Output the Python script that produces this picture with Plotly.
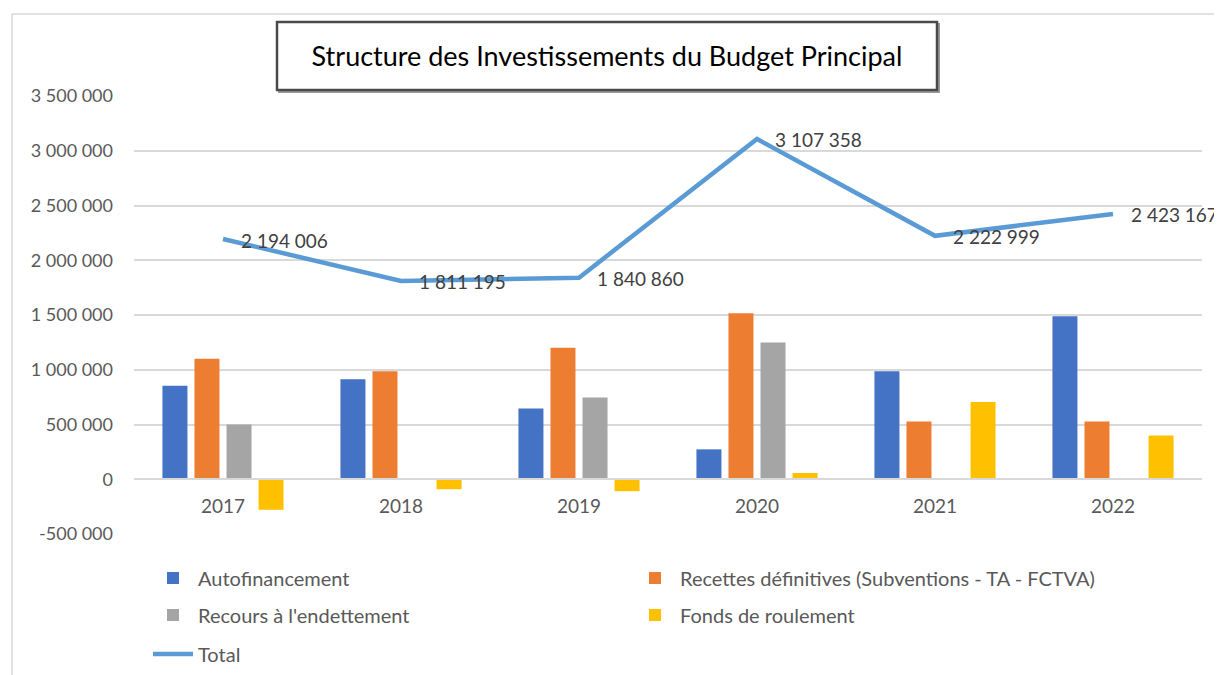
import plotly.graph_objects as go

# ---------------- data ----------------
years = ["2017", "2018", "2019", "2020", "2021", "2022"]
autofinancement = [855000, 913000, 646000, 273000, 986000, 1489000]
recettes = [1101000, 986000, 1201000, 1516000, 528000, 528000]
endettement = [500000, None, 746000, 1250000, None, None]
fonds_roulement = [-279000, -91000, -109000, 57000, 706000, 400000]
total = [2194006, 1811195, 1840860, 3107358, 2222999, 2423167]
total_labels = ["2 194 006", "1 811 195", "1 840 860", "3 107 358", "2 222 999", "2 423 167"]

y_tickvals = [-500000, 0, 500000, 1000000, 1500000, 2000000, 2500000, 3000000, 3500000]
y_ticktext = ["-500 000", "0", "500 000", "1 000 000", "1 500 000", "2 000 000",
              "2 500 000", "3 000 000", "3 500 000"]

series_names = ["Autofinancement", "Recettes définitives (Subventions - TA - FCTVA)",
                "Recours à l'endettement", "Fonds de roulement"]
colors = ["#4472C4", "#ED7D31", "#A5A5A5", "#FFC000"]
line_color = "#5B9BD5"

# ---------------- geometry ----------------
# the HTML body has an 8px default margin: figure is drawn at page offset (8, 8)
OFF = 8
W, H = 1222 - OFF, 675 - OFF
PLOT_L, PLOT_R, PLOT_T, PLOT_B = 134, 1202, 96, 534      # in page pixels
ML, MR = PLOT_L - OFF, (W + OFF) - PLOT_R
MT, MB = PLOT_T - OFF, (H + OFF) - PLOT_B
PW, PH = W - ML - MR, H - MT - MB
YMIN, YMAX = -500000, 3500000

def px_x(px):
    return (px - PLOT_L) / PW

def px_y(py):
    return (PLOT_B - py) / PH

FONT = "Lato, 'Open Sans', sans-serif"

fig = go.Figure()
for name, vals, col, lg in zip(series_names,
                               [autofinancement, recettes, endettement, fonds_roulement],
                               colors, ["legend", "legend", "legend2", "legend2"]):
    fig.add_trace(go.Bar(x=years, y=vals, name=name, marker_color=col,
                         marker_line_width=0, legend=lg, hoverinfo="skip"))

fig.add_trace(go.Scatter(x=years, y=total, name="Total", mode="lines",
                         line=dict(color=line_color, width=4.5),
                         legend="legend3", cliponaxis=False))

# data labels of the total line (category index positions on the x axis)
annotations = [
    dict(x=i, y=v, xref="x", yref="y", text=lbl, showarrow=False,
         xanchor="left", yanchor="middle", xshift=16, yshift=-1,
         font=dict(size=19, color="#404040", family=FONT))
    for i, (v, lbl) in enumerate(zip(total, total_labels))
]

zero_pos = (0 - YMIN) / (YMAX - YMIN)

legend_common = dict(orientation="h", xanchor="left", yanchor="middle",
                     font=dict(size=20, color="#595959", family=FONT),
                     entrywidth=427, itemwidth=40, bgcolor="rgba(0,0,0,0)",
                     traceorder="normal")

fig.update_layout(
    width=W, height=H,
    margin=dict(l=ML, r=MR, t=MT, b=MB, autoexpand=False),
    paper_bgcolor="white", plot_bgcolor="white",
    font=dict(family=FONT, color="#595959"),
    barmode="group", bargap=0.28, bargroupgap=0.22,
    showlegend=True,
    legend=dict(x=px_x(148), y=px_y(578), **legend_common),
    legend2=dict(x=px_x(148), y=px_y(615), **legend_common),
    legend3=dict(x=px_x(148), y=px_y(654), **legend_common),
    xaxis=dict(type="category", range=[-0.5, len(years) - 0.5],
               anchor="free", position=zero_pos, showline=True,
               linecolor="#D9D9D9", linewidth=1.5, ticks="", showgrid=False,
               tickfont=dict(size=19, color="#595959", family=FONT),
               ticklabelstandoff=10, zeroline=False),
    yaxis=dict(range=[YMIN, YMAX], tickvals=y_tickvals, ticktext=y_ticktext,
               showgrid=True, gridcolor="#D9D9D9", gridwidth=1.5, zeroline=False,
               ticks="", tickfont=dict(size=18, color="#595959", family=FONT),
               ticklabelstandoff=20, showline=False),
    title=dict(text="Structure des Investissements du Budget Principal",
               xref="paper", x=(px_x(277) + px_x(937)) / 2, xanchor="center",
               yref="container", y=1 - (57 - OFF) / H, yanchor="middle",
               font=dict(size=27, color="#000000", family=FONT)),
    annotations=annotations,
    shapes=[
        # outer chart frame
        dict(type="rect", xref="paper", yref="paper",
             x0=px_x(12), x1=px_x(1240), y0=px_y(690), y1=px_y(14),
             line=dict(color="#D9D9D9", width=1.5), fillcolor="rgba(0,0,0,0)",
             layer="below"),
        # title box shadow
        dict(type="rect", xref="paper", yref="paper",
             x0=px_x(279), x1=px_x(939), y0=px_y(92), y1=px_y(24),
             line=dict(color="#9A9A9A", width=2), fillcolor="rgba(0,0,0,0)"),
        # title box
        dict(type="rect", xref="paper", yref="paper",
             x0=px_x(277), x1=px_x(937), y0=px_y(90), y1=px_y(22),
             line=dict(color="#4A4A4A", width=2.5), fillcolor="white"),
    ],
)

fig.write_html("out.html")
